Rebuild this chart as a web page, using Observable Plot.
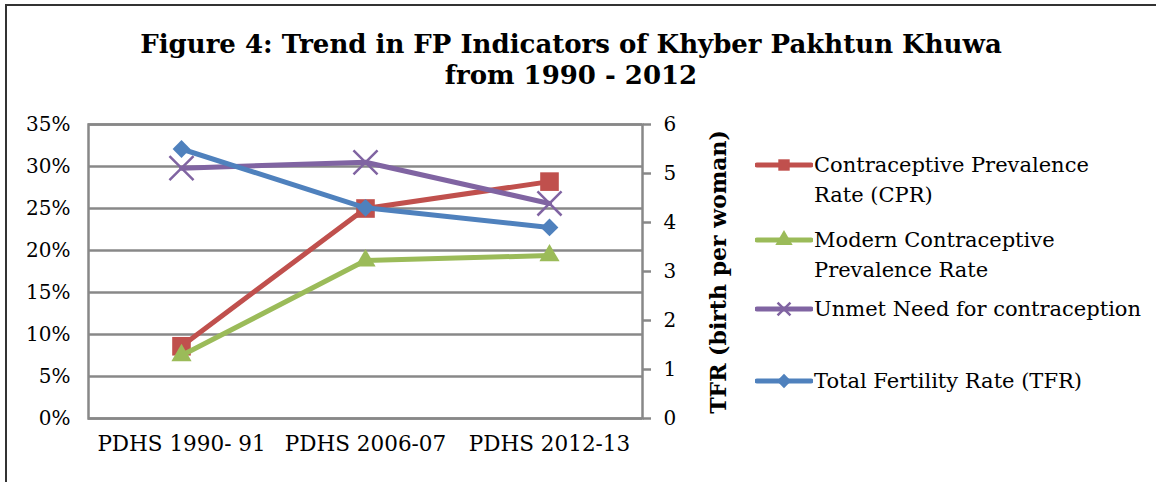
<!DOCTYPE html>
<html><head><meta charset="utf-8">
<script src="https://cdn.jsdelivr.net/npm/d3@7"></script>
<script src="https://cdn.jsdelivr.net/npm/@observablehq/plot@0.6"></script>
<style>
body{margin:0;background:#fff;}
#wrap{position:relative;width:1156px;height:482px;overflow:hidden;font-family:"DejaVu Serif",serif;color:#000;background:#fff;}
#wrap svg{position:absolute;left:0;top:0;}
.border-top{position:absolute;left:5px;top:4px;width:1151px;height:2px;background:#333;}
.border-left{position:absolute;left:5px;top:4px;width:2px;height:478px;background:#333;}
.title{position:absolute;left:0;width:1156px;text-align:center;font-weight:bold;font-size:26px;line-height:31px;top:29px;padding-right:14px;box-sizing:border-box;}
.ylab2{position:absolute;left:718px;top:272px;transform:translate(-50%,-50%) rotate(-90deg);font-weight:bold;font-size:22px;white-space:nowrap;}
.leg{position:absolute;left:755px;font-size:21px;line-height:30px;}
.leg svg{position:absolute;left:0;top:0;}
.leg span{position:absolute;left:59px;top:-15px;white-space:nowrap;}
</style></head><body><div id="wrap"></div>
<script>
// ---- data ----
const surveys = ["PDHS 1990- 91", "PDHS 2006-07", "PDHS 2012-13"];
const seriesNames = ["Contraceptive Prevalence Rate (CPR)", "Modern Contraceptive Prevalence Rate", "Unmet Need for contraception", "Total Fertility Rate (TFR)"];
const legendLines = [["Contraceptive Prevalence", "Rate (CPR)"], ["Modern Contraceptive", "Prevalence Rate"], ["Unmet Need for contraception"], ["Total Fertility Rate (TFR)"]];
const cpr = [8.6, 25.0, 28.2];
const mcpr = [7.5, 18.8, 19.4];
const unmet = [29.8, 30.5, 25.6];
const tfr = [5.5, 4.3, 3.9];
const colors = ["#C0504D", "#9BBB59", "#8064A2", "#4F81BD"];
const symbols = ["square", "triangle", "times", "diamond2"];
const pctTicks = [0, 5, 10, 15, 20, 25, 30, 35];
const tfrTicks = [0, 1, 2, 3, 4, 5, 6];
const titleLines = ["Figure 4: Trend in FP Indicators of Khyber Pakhtun Khuwa", "from 1990 - 2012"];
const rightAxisTitle = "TFR (birth per woman)";

// ---- build ----
const pctMax = 35, tfrMax = 6, k = pctMax / tfrMax;
const seriesVals = [cpr, mcpr, unmet, tfr.map(v => v * k)];
const rows = [];
seriesNames.forEach((s, i) => surveys.forEach((x, j) => rows.push({series: s, x, y: seriesVals[i][j], si: i})));
const grid = "#888888";

const marks = [
  Plot.gridY(pctTicks, {stroke: grid, strokeOpacity: 1, strokeWidth: 2.5}),
  Plot.frame({stroke: grid, strokeWidth: 2.5}),
  Plot.axisY(pctTicks, {anchor: "left", tickSize: 0, tickPadding: 18, tickFormat: d => d + "%", fontSize: 20}),
  Plot.axisY(tfrTicks.map(v => v * k), {anchor: "right", tickSize: 8, tickPadding: 13, stroke: grid, strokeWidth: 2.5, tickFormat: d => String(Math.round(d / k)), fontSize: 20}),
  Plot.axisX({tickSize: 0, tickPadding: 17, fontSize: 21.5})
];
seriesNames.forEach((s, i) => {
  const d = rows.filter(r => r.si === i);
  marks.push(Plot.line(d, {x: "x", y: "y", stroke: colors[i], strokeWidth: 5, strokeLinejoin: "round"}));
  if (symbols[i] === "times") {
    marks.push(Plot.dot(d, {x: "x", y: "y", symbol: "times", stroke: colors[i], strokeWidth: 2.5, r: 11}));
  } else {
    const r = symbols[i] === "square" ? 10.5 : symbols[i] === "triangle" ? 7.5 : 8;
    marks.push(Plot.dot(d, {x: "x", y: "y", symbol: symbols[i], fill: colors[i], stroke: "none", r}));
  }
});

const chart = Plot.plot({
  width: 1156, height: 482,
  marginLeft: 88, marginRight: 514, marginTop: 124, marginBottom: 64,
  style: {fontFamily: "DejaVu Serif", fontSize: "20px", color: "#000", background: "transparent"},
  x: {type: "point", domain: surveys, padding: 0.5, label: null},
  y: {domain: [0, pctMax], label: null},
  marks
});

const wrap = document.getElementById("wrap");
wrap.appendChild(chart);
wrap.insertAdjacentHTML("beforeend", '<div class="border-top"></div><div class="border-left"></div>');
const t = document.createElement("div");
t.className = "title";
t.innerHTML = titleLines.join("<br>");
wrap.appendChild(t);
const yl = document.createElement("div");
yl.className = "ylab2";
yl.textContent = rightAxisTitle;
wrap.appendChild(yl);

const legY = [165, 240, 309, 381];
legendLines.forEach((lines, i) => {
  const div = document.createElement("div");
  div.className = "leg";
  div.style.top = legY[i] + "px";
  const sym = d3.symbol().type({square: d3.symbolSquare, triangle: d3.symbolTriangle, times: d3.symbolTimes, diamond2: d3.symbolDiamond2}[symbols[i]]).size(symbols[i] === "times" ? 110 : 130)();
  const fillAttr = symbols[i] === "times" ? `fill="none" stroke="${colors[i]}" stroke-width="2.5"` : `fill="${colors[i]}"`;
  div.innerHTML = `<svg width="58" height="20" style="top:-10px" viewBox="0 -10 58 20"><line x1="2" x2="56" y1="0" y2="0" stroke="${colors[i]}" stroke-width="5" stroke-linecap="round"/><path d="${sym}" transform="translate(29,0)" ${fillAttr}/></svg><span>${lines.join("<br>")}</span>`;
  wrap.appendChild(div);
});
</script>
</body></html>
